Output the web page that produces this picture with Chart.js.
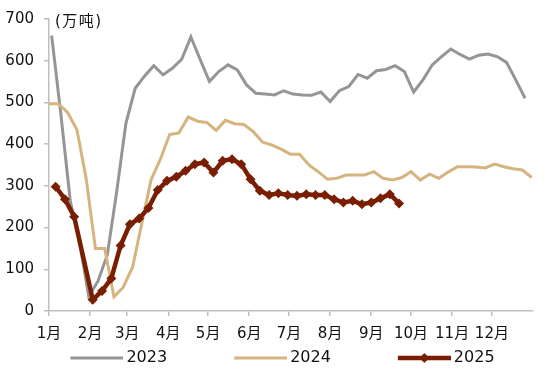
<!DOCTYPE html>
<html>
<head>
<meta charset="utf-8">
<script src="https://cdn.jsdelivr.net/npm/chart.js@4.4.1/dist/chart.umd.min.js"></script>
<style>
html,body{margin:0;padding:0;background:#ffffff;}
#wrap{width:550px;height:377px;}
</style>
</head>
<body>
<div id="wrap"><canvas id="c" width="550" height="377"></canvas></div>
<script>
// ---------- data ----------
const monthLabels = ['1月','2月','3月','4月','5月','6月','7月','8月','9月','10月','11月','12月'];
const monthStartDays = [0,31,59,90,120,151,181,212,243,273,304,334];
const unitLabel = '(万吨)';
const seriesNames = ['2023','2024','2025'];

// weekly observations; first observation day-of-year for each year, one point every 7 days
const firstDay2023 = 2;
const firstDay2024 = 0;
const firstDay2025 = 5;

const values2023 = [660,470,265,165,35,72,135,285,450,534,563,588,566,582,603,657,603,550,574,590,
                    578,542,522,520,518,528,520,518,517,525,502,528,538,567,558,576,579,588,574,525,
                    554,590,610,628,615,604,613,616,610,596,554,510];
const values2024 = [497,497,476,435,318,150,150,34,57,105,210,315,364,423,427,465,455,452,433,457,
                    449,447,430,405,398,388,376,376,350,334,316,318,326,326,326,334,318,314,320,334,
                    314,328,318,333,346,346,345,343,352,346,341,338,320];
const values2025 = [298,268,226,null,27,48,78,157,208,222,247,290,312,322,336,352,356,332,360,364,
                    352,316,288,278,282,278,276,280,278,278,268,260,264,256,260,270,280,258];

// ---------- styles ----------
const colorGray = '#959595';
const colorTan = '#d6b47f';
const colorBrown = '#7a1e02';
const axisColor = '#bfbfbf';
const textColor = '#111111';
const fontFamily = '"DejaVu Sans", "Noto Sans CJK SC", sans-serif';

function toPoints(values, firstDay) {
  return values.map((v, i) => ({ x: firstDay + 7 * i, y: v }));
}

function legendSwatch(color, width, withMarker) {
  const c = document.createElement('canvas');
  c.width = 90; c.height = 14;
  const g = c.getContext('2d');
  g.strokeStyle = color; g.lineWidth = width; g.lineCap = 'butt';
  g.beginPath(); g.moveTo(37, 7); g.lineTo(90, 7); g.stroke();
  if (withMarker) {
    g.fillStyle = color;
    g.beginPath();
    g.moveTo(58.5, 7); g.lineTo(63.5, 2); g.lineTo(68.5, 7); g.lineTo(63.5, 12);
    g.closePath(); g.fill();
  }
  return c;
}
const swatches = [
  legendSwatch(colorGray, 3, false),
  legendSwatch(colorTan, 3, false),
  legendSwatch(colorBrown, 4.5, true)
];

const unitLabelPlugin = {
  id: 'unitLabel',
  afterDraw(chart) {
    const { ctx, chartArea } = chart;
    ctx.save();
    ctx.font = '15px ' + fontFamily;
    if ('letterSpacing' in ctx) ctx.letterSpacing = '1.5px';
    ctx.fillStyle = textColor;
    ctx.textBaseline = 'middle';
    ctx.textAlign = 'left';
    ctx.fillText(unitLabel, chartArea.left + 6, chartArea.top + 3);
    ctx.restore();
  }
};

// place the legend row right under the month labels
const legendPlacePlugin = {
  id: 'legendPlace',
  afterLayout(chart) {
    const lg = chart.legend;
    if (!lg) return;
    lg.top = chart.chartArea.bottom + 4;
    lg.bottom = chart.height;
    lg.height = lg.bottom - lg.top;
  }
};

new Chart(document.getElementById('c').getContext('2d'), {
  type: 'line',
  data: {
    datasets: [
      { label: seriesNames[0], data: toPoints(values2023, firstDay2023), borderColor: colorGray,
        backgroundColor: colorGray, borderWidth: 3, pointRadius: 0, tension: 0, order: 3 },
      { label: seriesNames[1], data: toPoints(values2024, firstDay2024), borderColor: colorTan,
        backgroundColor: colorTan, borderWidth: 3, pointRadius: 0, tension: 0, order: 2 },
      { label: seriesNames[2], data: toPoints(values2025, firstDay2025), borderColor: colorBrown,
        backgroundColor: colorBrown, borderWidth: 4.5, pointRadius: 5, pointStyle: 'rectRot',
        pointBorderWidth: 0, pointBackgroundColor: colorBrown, tension: 0, spanGaps: true, order: 1 }
    ]
  },
  options: {
    responsive: false,
    animation: false,
    devicePixelRatio: 1,
    layout: { padding: { left: 0, right: 17, top: 17, bottom: 1 } },
    scales: {
      x: {
        type: 'linear', min: 0, max: 365,
        afterBuildTicks: s => { s.ticks = monthStartDays.map(v => ({ value: v })); },
        afterFit: s => { s.height = 31; },
        ticks: {
          autoSkip: false, maxRotation: 0, minRotation: 0, padding: 9, color: textColor,
          font: { family: fontFamily, size: 15 },
          callback: (v, i) => monthLabels[i]
        },
        grid: { drawOnChartArea: false, drawTicks: true, tickLength: 5, color: axisColor, lineWidth: 1.5 },
        border: { color: axisColor, width: 1.5 }
      },
      y: {
        min: 0, max: 700,
        afterFit: s => { s.width = 49; },
        ticks: { stepSize: 100, padding: 10, color: textColor, font: { family: fontFamily, size: 15 } },
        grid: { drawOnChartArea: false, drawTicks: true, tickLength: 5, color: axisColor, lineWidth: 1.5 },
        border: { color: axisColor, width: 1.5 }
      }
    },
    plugins: {
      tooltip: { enabled: false },
      legend: {
        position: 'bottom',
        maxHeight: 34,
        labels: {
          usePointStyle: true, pointStyleWidth: 80, padding: 35, color: textColor,
          font: { family: fontFamily, size: 16 },
          generateLabels: chart => chart.data.datasets.map((ds, i) => ({
            text: ds.label, pointStyle: swatches[i], datasetIndex: i,
            fillStyle: ds.borderColor, strokeStyle: ds.borderColor, lineWidth: 0,
            hidden: false, fontColor: textColor
          }))
        }
      }
    }
  },
  plugins: [unitLabelPlugin, legendPlacePlugin]
});
</script>
</body>
</html>
